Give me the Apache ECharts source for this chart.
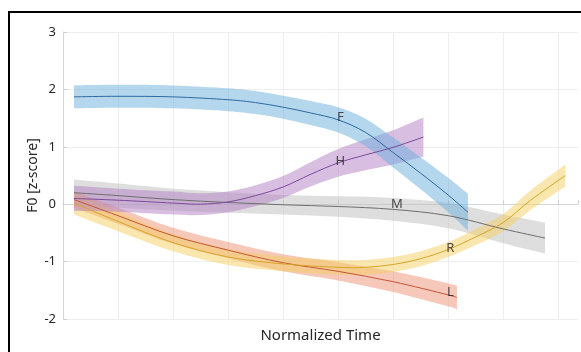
<!DOCTYPE html>
<html>
<head>
<meta charset="utf-8">
<script src="https://cdn.jsdelivr.net/npm/echarts@6/dist/echarts.min.js"></script>
<style>
html,body{margin:0;padding:0;background:#fff}
#report{width:581px;height:352px}
</style>
</head>
<body>
<div id="report"></div>
<script>
// F
var xF = [0.2, 1, 2, 3, 3.5, 4, 4.5, 5, 5.5, 6, 6.5, 7, 7.36];
var yF = [1.87, 1.88, 1.87, 1.82, 1.77, 1.69, 1.59, 1.47, 1.25, 0.9, 0.54, 0.16, -0.14];
var wF = [0.2, 0.2, 0.2, 0.2, 0.2, 0.2, 0.21, 0.22, 0.24, 0.26, 0.28, 0.3, 0.32];
// H
var xH = [0.2, 1, 2, 2.5, 3, 3.5, 4, 4.5, 5, 5.5, 6, 6.55];
var yH = [0.1, 0.07, 0.02, 0.0, 0.04, 0.15, 0.3, 0.52, 0.72, 0.86, 0.99, 1.17];
var wH = [0.22, 0.2, 0.2, 0.19, 0.18, 0.18, 0.19, 0.21, 0.24, 0.27, 0.3, 0.34];
// M
var xM = [0.2, 1, 2, 3, 4, 5, 6, 7, 8, 8.76];
var yM = [0.2, 0.15, 0.08, 0.03, -0.01, -0.04, -0.09, -0.2, -0.43, -0.59];
var wM = [0.23, 0.21, 0.19, 0.18, 0.17, 0.18, 0.2, 0.22, 0.25, 0.27];
// L
var xL = [0.2, 1, 2, 3, 4, 5, 6, 7, 7.16];
var yL = [0.08, -0.2, -0.55, -0.8, -1.02, -1.17, -1.35, -1.58, -1.63];
var wL = [0.14, 0.14, 0.14, 0.14, 0.15, 0.16, 0.18, 0.2, 0.21];
// R
var xR = [0.2, 1, 2, 3, 4, 5, 5.5, 6, 6.5, 7, 7.5, 8, 8.5, 9.13];
var yR = [0.02, -0.3, -0.67, -0.92, -1.04, -1.1, -1.1, -1.05, -0.95, -0.79, -0.57, -0.32, 0.07, 0.5];
var wR = [0.2, 0.17, 0.15, 0.14, 0.13, 0.13, 0.13, 0.13, 0.13, 0.13, 0.14, 0.15, 0.17, 0.19];
// curve labels
var labelNames = ['F', 'H', 'M', 'R', 'L'];
var labelX = [5.04, 5.04, 6.07, 7.04, 7.04];
var labelY = [1.52, 0.74, 0.0, -0.77, -1.53];

var font = 'Noto Sans';

// smooth path through pixel points (catmull-rom -> bezier)
function curve(pts, start) {
	var d = start ? 'M' + pts[0][0] + ',' + pts[0][1] : 'L' + pts[0][0] + ',' + pts[0][1];
	for (var i = 0; i < pts.length - 1; i++) {
		var p0 = pts[i - 1] || pts[i], p1 = pts[i], p2 = pts[i + 1], p3 = pts[i + 2] || p2;
		var c1x = p1[0] + (p2[0] - p0[0]) / 6, c1y = p1[1] + (p2[1] - p0[1]) / 6;
		var c2x = p2[0] - (p3[0] - p1[0]) / 6, c2y = p2[1] - (p3[1] - p1[1]) / 6;
		d += 'C' + c1x + ',' + c1y + ',' + c2x + ',' + c2y + ',' + p2[0] + ',' + p2[1];
	}
	return d;
}

function band(name, xs, ys, ws, lineColor, bandColor) {
	var rows = [];
	for (var i = 0; i < xs.length; i++) rows.push([xs[i], ys[i] - ws[i], ys[i] + ws[i], ys[i]]);
	return {
		type: 'custom', name: name, data: rows, silent: true,
		encode: {x: 0, y: [1, 2]},
		renderItem: function(params, api) {
			if (params.dataIndex !== 0) return null;
			var up = [], lo = [], mid = [];
			for (var i = 0; i < rows.length; i++) {
				up.push(api.coord([rows[i][0], rows[i][2]]));
				lo.push(api.coord([rows[i][0], rows[i][1]]));
				mid.push(api.coord([rows[i][0], rows[i][3]]));
			}
			return {
				type: 'group',
				children: [{
					type: 'path',
					shape: {pathData: curve(up, true) + curve(lo.slice().reverse(), false) + 'Z'},
					style: {fill: bandColor, opacity: 0.5, stroke: null}
				}, {
					type: 'path', z2: 10,
					shape: {pathData: curve(mid, true)},
					style: {fill: null, stroke: lineColor, lineWidth: 1}
				}]
			};
		}
	};
}

var labels = [];
for (var i = 0; i < labelNames.length; i++) labels.push([labelX[i], labelY[i], labelNames[i]]);

var series = [
	band('M', xM, yM, wM, '#6e6e6e', '#bdbdbd'),
	band('L', xL, yL, wL, '#c4553a', '#ec9275'),
	band('R', xR, yR, wR, '#d6a526', '#f5cd60'),
	band('H', xH, yH, wH, '#7b4a9a', '#b17fc4'),
	band('F', xF, yF, wF, '#2f6a9e', '#6bb0de'),
	{
		type: 'scatter', data: labels, symbolSize: 1, itemStyle: {color: 'rgba(0,0,0,0)'}, z: 5,
		label: {show: true, position: 'inside', color: '#222', fontFamily: font, fontSize: 13,
			formatter: function(p) { return p.data[2]; }}
	}
];

var myChart = echarts.init(document.getElementById('report'));
var option = {
	animation: false,
	backgroundColor: '#fff',
	grid: {left: 63, right: 3, top: 32, bottom: 33},
	xAxis: {
		type: 'value', min: 0, max: 9.36, interval: 1,
		name: 'Normalized Time', nameLocation: 'middle', nameGap: 9,
		nameTextStyle: {fontFamily: font, fontSize: 15, color: '#262626'},
		axisLine: {show: true, lineStyle: {color: '#d6d6d6'}},
		axisTick: {show: true, inside: true, length: 4, lineStyle: {color: '#cfcfcf'}},
		axisLabel: {show: false},
		splitLine: {show: true, showMaxLine: false, lineStyle: {color: '#eeeeee'}}
	},
	yAxis: {
		type: 'value', min: -2, max: 3, interval: 1,
		name: 'F0 [z-score]', nameLocation: 'middle', nameGap: 23, nameMoveOverlap: false,
		nameTextStyle: {fontFamily: font, fontSize: 14, color: '#262626'},
		axisLine: {show: true, lineStyle: {color: '#d6d6d6'}},
		axisTick: {show: true, inside: true, length: 4, lineStyle: {color: '#cfcfcf'}},
		axisLabel: {fontFamily: font, fontSize: 13, color: '#262626', margin: 7},
		splitLine: {show: true, lineStyle: {color: '#eeeeee'}}
	},
	graphic: [{
		type: 'rect', z: 100, silent: true,
		shape: {x: 9, y: 12, width: 640, height: 420},
		style: {fill: null, stroke: '#000', lineWidth: 2}
	}],
	series: series
};
myChart.setOption(option);
</script>
</body>
</html>
